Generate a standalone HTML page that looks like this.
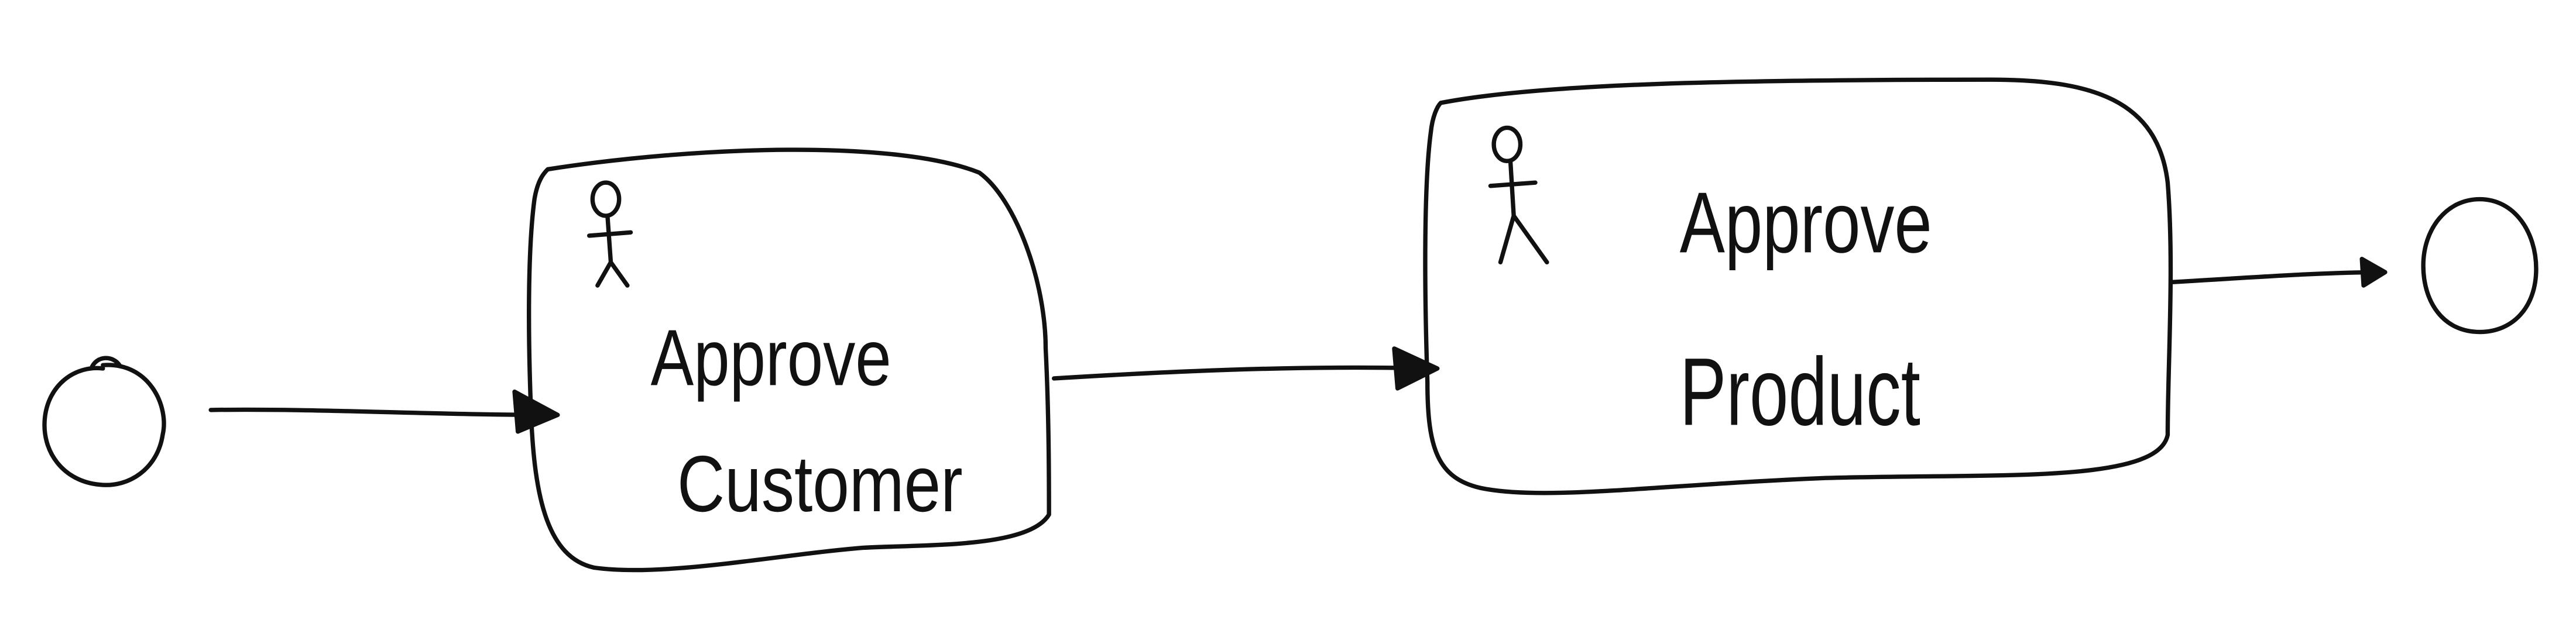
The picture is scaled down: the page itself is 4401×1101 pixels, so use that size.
<!DOCTYPE html>
<html><head><meta charset="utf-8"><style>
html,body{margin:0;padding:0;background:#fff;}
svg{display:block;}
text{font-family:"Liberation Sans","DejaVu Sans",sans-serif;fill:#111;font-weight:normal;}
</style></head><body>
<svg width="4401" height="1101" viewBox="0 0 1552 388" preserveAspectRatio="none">
<g fill="none" stroke="#111" stroke-width="2.6" stroke-linecap="round" stroke-linejoin="round">
 <path d="M62,220 C90,218 102,245 98,262 C95,282 78,294 60,292 C38,290 25,272 27,252 C29,232 45,220 62,222 M55,222 C58,214 68,214 72,220"/>
 <path d="M127,247 C190,246 260,250 332,250"/>
 <path d="M310,236 L336,250 L312,260 Z" fill="#111"/>
 <path d="M330,102 C420,88 540,84 590,104 C612,120 630,170 630,210 C632,250 632,290 632,310 C620,330 560,328 520,330 C470,334 400,348 358,342 C330,336 322,300 320,250 C318,200 318,150 322,120 C324,108 328,104 330,102 Z"/>
 <path d="M635,228 C700,224 780,220 862,222"/>
 <path d="M840,210 L866,222 L842,234 Z" fill="#111"/>
 <path d="M868,62 C930,50 1050,48 1200,48 C1260,48 1300,60 1306,110 C1310,160 1306,220 1306,262 C1300,292 1200,285 1100,288 C1000,292 930,302 892,294 C866,288 860,270 860,230 C858,170 858,110 862,80 C863,70 866,64 868,62 Z"/>
 <path d="M1308,170 C1360,167 1400,164 1435,164"/>
 <path d="M1423,156 L1437,164 L1424,172 Z" fill="#111"/>
 <path d="M1494,120 C1515,120 1528,140 1528,162 C1528,185 1514,200 1494,200 C1472,200 1460,182 1460,160 C1460,138 1474,120 1494,120"/>
 <g>
  <ellipse cx="365" cy="120" rx="8" ry="10"/>
  <path d="M366,130 L368,158 M355,142 L380,140 M368,158 L360,172 M368,158 L378,172"/>
 </g>
 <g>
  <ellipse cx="908" cy="87" rx="8" ry="10"/>
  <path d="M910,97 L912,130 M898,112 L925,110 M912,130 L904,158 M912,130 L932,158"/>
 </g>
</g>
<text x="392" y="232" font-size="48" textLength="145" lengthAdjust="spacingAndGlyphs">Approve</text>
<text x="408" y="308" font-size="48" textLength="172" lengthAdjust="spacingAndGlyphs">Customer</text>
<text x="1012" y="152" font-size="52" textLength="152" lengthAdjust="spacingAndGlyphs">Approve</text>
<text x="1012" y="256" font-size="58" textLength="145" lengthAdjust="spacingAndGlyphs">Product</text>
</svg>
</body></html>
